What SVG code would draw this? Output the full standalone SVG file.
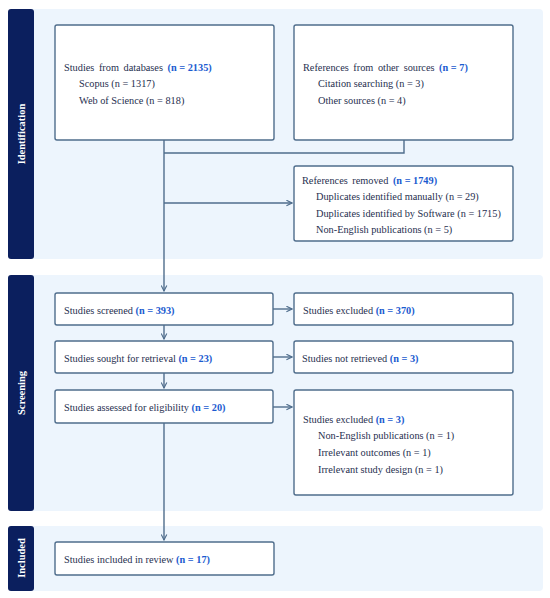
<svg xmlns="http://www.w3.org/2000/svg" width="550" height="598" viewBox="0 0 550 598">
<defs>
<style>
.band{fill:#edf5fd}
.bar{fill:#0b1f5e}
.box{fill:#ffffff;stroke:#4f6d8c;stroke-width:1.4}
.t{font-family:"Liberation Serif","Times New Roman",serif;font-size:10.3px;fill:#1f2f4f}
.ws{word-spacing:2px}
.b{font-weight:bold;fill:#1b5bd0;word-spacing:0}
.lab{font-family:"Liberation Serif","Times New Roman",serif;font-size:10.5px;font-weight:bold;fill:#ffffff}
.c{fill:none;stroke:#4f6d8c;stroke-width:1.4}
</style>
<marker id="ah" viewBox="0 0 10 10" refX="9" refY="5" markerWidth="7" markerHeight="7" orient="auto" markerUnits="userSpaceOnUse">
<path d="M1,1 L9,5 L1,9" fill="none" stroke="#4f6d8c" stroke-width="1.6"/>
</marker>
</defs>
<rect width="550" height="598" fill="#ffffff"/>
<g id="phase-identification">
<rect class="band" x="30" y="9" width="513" height="250" rx="4"/>
<rect class="bar" x="8" y="9" width="26" height="250" rx="3"/>
<text class="lab" transform="translate(25,134) rotate(-90)" text-anchor="middle">Identification</text>
</g>
<g id="phase-screening">
<rect class="band" x="30" y="275" width="513" height="236" rx="4"/>
<rect class="bar" x="8" y="275" width="26" height="236" rx="3"/>
<text class="lab" transform="translate(25,393) rotate(-90)" text-anchor="middle">Screening</text>
</g>
<g id="phase-included">
<rect class="band" x="30" y="526" width="513" height="65" rx="4"/>
<rect class="bar" x="8" y="526" width="26" height="65" rx="3"/>
<text class="lab" transform="translate(25,558) rotate(-90)" text-anchor="middle">Included</text>
</g>
<g id="connectors">
<path class="c" d="M164,140 V291" marker-end="url(#ah)"/>
<path class="c" d="M404,140 V153 H164"/>
<path class="c" d="M164,203 H292" marker-end="url(#ah)"/>
<path class="c" d="M164,325 V339" marker-end="url(#ah)"/>
<path class="c" d="M164,373 V388" marker-end="url(#ah)"/>
<path class="c" d="M164,423 V540" marker-end="url(#ah)"/>
<path class="c" d="M273,309 H292" marker-end="url(#ah)"/>
<path class="c" d="M273,357 H292" marker-end="url(#ah)"/>
<path class="c" d="M273,407 H292" marker-end="url(#ah)"/>
</g>
<g id="databases">
<rect class="box" x="55" y="25" width="219" height="115" rx="2"/>
<text class="t" x="64" y="71"><tspan class="ws">Studies from databases </tspan><tspan class="b">(n = 2135)</tspan></text>
<text class="t" x="79" y="87">Scopus (n = 1317)</text>
<text class="t" x="79" y="104">Web of Science (n = 818)</text>
</g>
<g id="other-sources">
<rect class="box" x="294" y="25" width="219" height="115" rx="2"/>
<text class="t" x="303" y="71"><tspan class="ws">References from other sources </tspan><tspan class="b">(n = 7)</tspan></text>
<text class="t" x="318" y="87">Citation searching (n = 3)</text>
<text class="t" x="318" y="104">Other sources (n = 4)</text>
</g>
<g id="removed">
<rect class="box" x="294" y="166" width="219" height="75" rx="2"/>
<text class="t" x="302" y="183.5"><tspan class="ws">References removed </tspan><tspan class="b">(n = 1749)</tspan></text>
<text class="t" x="316" y="199.5">Duplicates identified manually (n = 29)</text>
<text class="t" x="316" y="216.5">Duplicates identified by Software (n = 1715)</text>
<text class="t" x="316" y="232.5">Non-English publications (n = 5)</text>
</g>
<g id="screened">
<rect class="box" x="55" y="293" width="218" height="32" rx="2"/>
<text class="t" x="64" y="313.5">Studies screened <tspan class="b">(n = 393)</tspan></text>
</g>
<g id="excluded-370">
<rect class="box" x="294" y="293" width="219" height="32" rx="2"/>
<text class="t" x="303" y="313.5">Studies excluded <tspan class="b">(n = 370)</tspan></text>
</g>
<g id="sought">
<rect class="box" x="55" y="341" width="218" height="32" rx="2"/>
<text class="t" x="64" y="361.5">Studies sought for retrieval <tspan class="b">(n = 23)</tspan></text>
</g>
<g id="not-retrieved">
<rect class="box" x="294" y="341" width="219" height="32" rx="2"/>
<text class="t" x="302" y="361.5">Studies not retrieved <tspan class="b">(n = 3)</tspan></text>
</g>
<g id="assessed">
<rect class="box" x="55" y="390" width="218" height="33" rx="2"/>
<text class="t" x="64" y="410.5">Studies assessed for eligibility <tspan class="b">(n = 20)</tspan></text>
</g>
<g id="excluded-3">
<rect class="box" x="294" y="390" width="219" height="105" rx="2"/>
<text class="t" x="303" y="422.5">Studies excluded <tspan class="b">(n = 3)</tspan></text>
<text class="t" x="318" y="438.5">Non-English publications (n = 1)</text>
<text class="t" x="318" y="455.5">Irrelevant outcomes (n = 1)</text>
<text class="t" x="318" y="472.5">Irrelevant study design (n = 1)</text>
</g>
<g id="included">
<rect class="box" x="55" y="542" width="219" height="33" rx="2"/>
<text class="t" x="64" y="562.5">Studies included in review <tspan class="b">(n = 17)</tspan></text>
</g>
</svg>
